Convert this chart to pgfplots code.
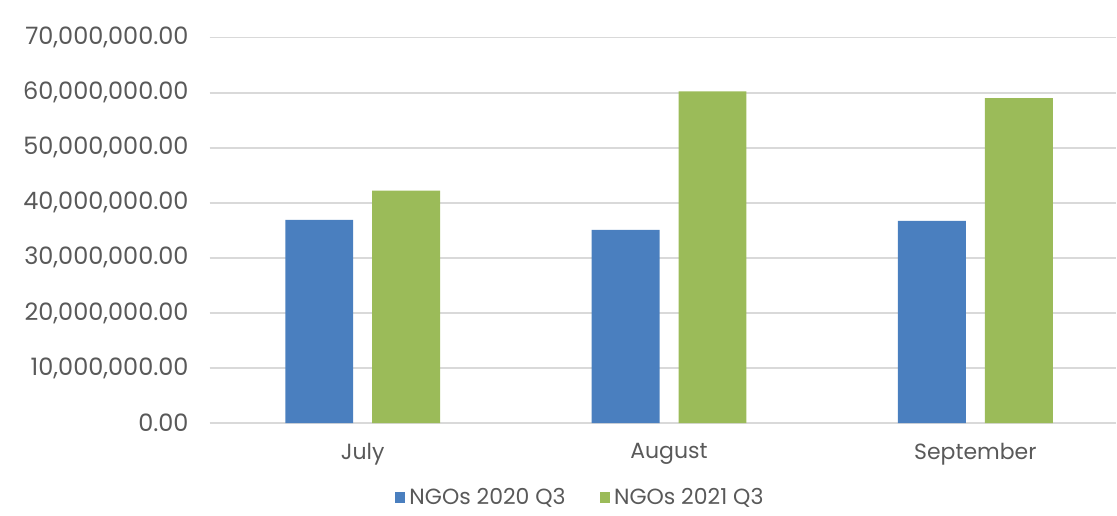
\documentclass[border=0pt]{standalone}
\usepackage{pgfplots}
\pgfplotsset{compat=1.18}
\usepackage{fontspec}
\setmainfont{Poppins}
\definecolor{barBlue}{HTML}{4A7FBF}
\definecolor{barGreen}{HTML}{9BBB59}
\definecolor{txtGray}{HTML}{595959}
\definecolor{gridGray}{HTML}{D9D9D9}

\begin{document}
\begin{tikzpicture}
\begin{axis}[
  scale only axis,
  width=453.65pt, height=192.8pt,
  ybar=9.5pt, bar width=34pt,
  xmin=-0.5, xmax=2.46,
  ymin=0, ymax=70000000,
  xtick=data,
  xticklabels={July,August,September},
  ytick={0,10000000,20000000,30000000,40000000,50000000,60000000,70000000},
  scaled y ticks=false,
  tick label style={font=\fontsize{11}{13}\selectfont,color=txtGray},
  yticklabel style={/pgf/number format/fixed,/pgf/number format/fixed zerofill,
    /pgf/number format/precision=2,/pgf/number format/1000 sep={,},
    /pgf/number format/assume math mode=true,xshift=-7pt,
    font=\fontsize{12}{14}\selectfont},
  xticklabel style={yshift=-6.5pt},
  major tick length=0pt,
  axis line style={draw=none},
  ymajorgrids=true,
  grid style={color=gridGray,line width=0.8pt},
  legend style={at={(0.41,-0.1935)},anchor=center,draw=none,fill=none,
    font=\fontsize{11}{13}\selectfont,text=txtGray,
    legend columns=2,
    /tikz/every even column/.append style={column sep=15pt}},
  legend cell align=left,
  legend image code/.code={\fill[#1] (0pt,-2.6pt) rectangle (5.2pt,2.6pt);},
]
\addplot[fill=barBlue,draw=none] coordinates {(0,36900000)(1,35100000)(2,36700000)};
\addlegendentry{NGOs 2020 Q3}
\addplot[fill=barGreen,draw=none] coordinates {(0,42200000)(1,60250000)(2,59000000)};
\addlegendentry{NGOs 2021 Q3}
\end{axis}
\useasboundingbox (-104.85pt,-43.35pt) rectangle (453.65pt,211.65pt);
\end{tikzpicture}
\end{document}
